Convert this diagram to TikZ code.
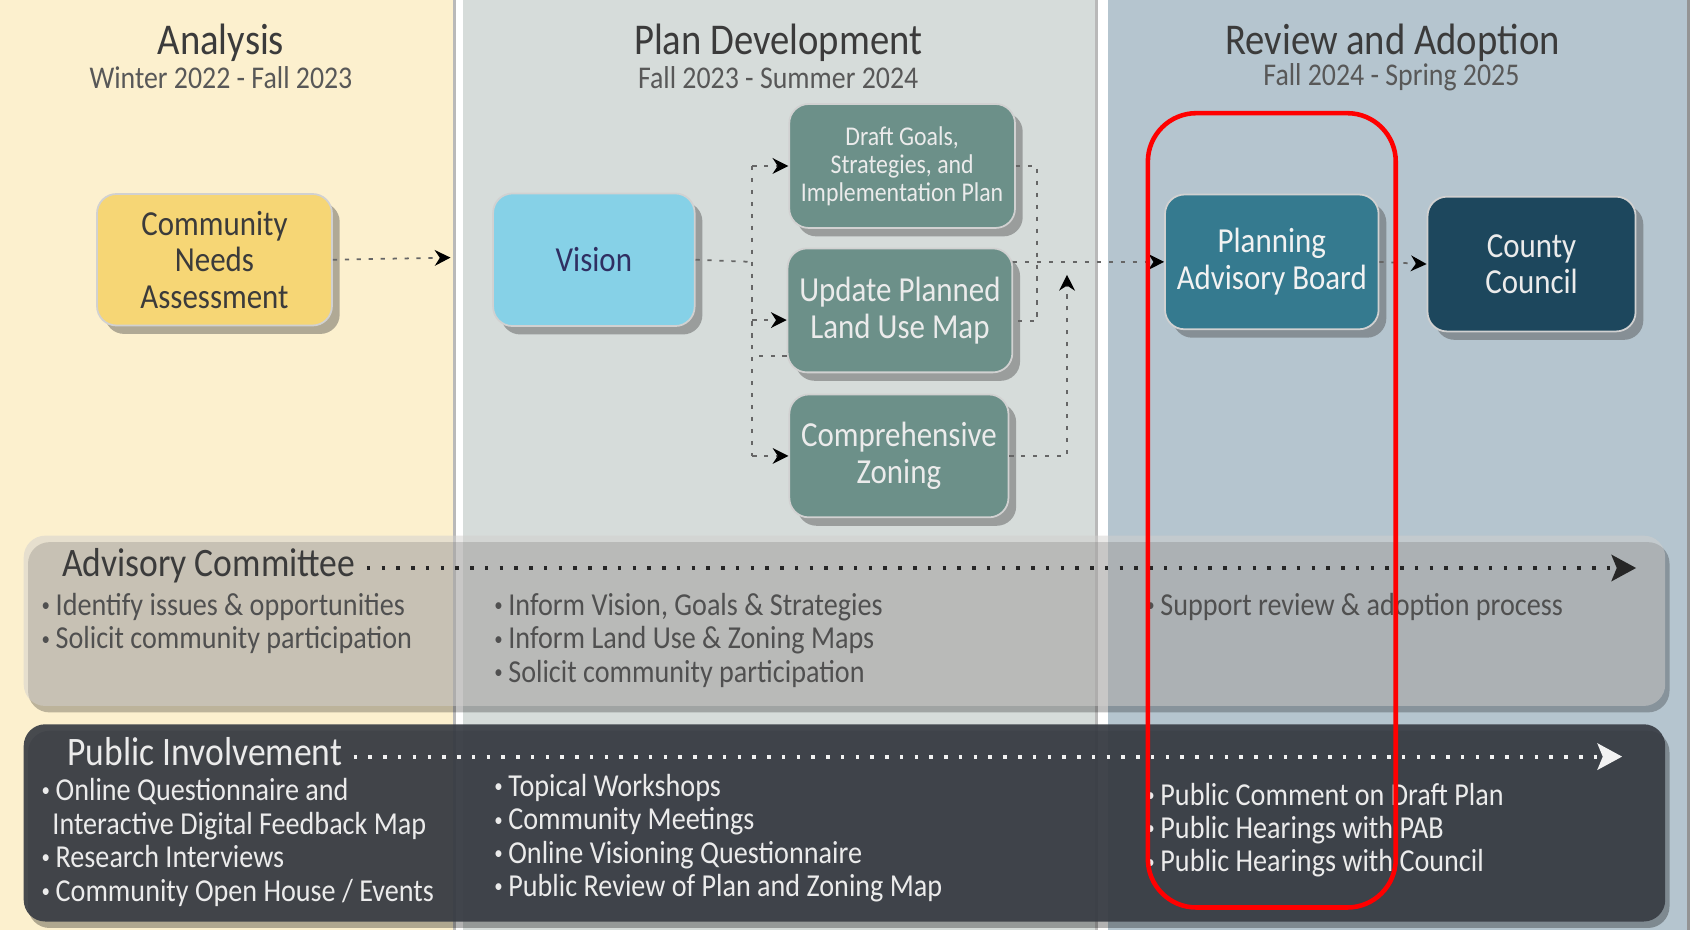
\documentclass[tikz,border=0pt]{standalone}
\usepackage{fontspec}
\setmainfont{Carlito}[FakeStretch=0.88]
\usepackage{xcolor}
\usepackage{tikz}
\usetikzlibrary{arrows.meta, shadows, calc}

\definecolor{creamcol}{HTML}{FCF0CE}
\definecolor{plancol}{HTML}{D6DCDA}
\definecolor{reviewcol}{HTML}{B5C5CF}
\definecolor{sepgray}{HTML}{B9B9B9}
\definecolor{cnafill}{HTML}{F6D675}
\definecolor{visionfill}{HTML}{86D1E7}
\definecolor{sagefill}{HTML}{6C9089}
\definecolor{pabfill}{HTML}{357A8F}
\definecolor{ccfill}{HTML}{1D475D}
\definecolor{inkgray}{HTML}{3B3B3B}
\definecolor{bandgray}{HTML}{D2D0CE}
\definecolor{banddark}{HTML}{383C44}
\definecolor{itemgray}{HTML}{505050}

\newlength\pxu
\setlength\pxu{0.10778mm}
\newcommand\bul{\makebox[13\pxu][l]{\raisebox{0.25ex}{\scalebox{0.6}{\textbullet}}}}

\tikzset{
	phase/.style={font=\fontsize{12.5}{13}\selectfont, text=inkgray, inner sep=0pt},
	period/.style={font=\fontsize{9}{10}\selectfont, text=inkgray!85, inner sep=0pt},
	stagebox/.style={rounded corners=18\pxu, draw=black!18, line width=0.5pt, align=center,
		font=\fontsize{10}{10.4}\selectfont,
		drop shadow={shadow xshift=2.2pt, shadow yshift=-2.4pt, opacity=0.4, fill=black!75}},
	flowline/.style={draw=black!60, line width=0.5pt, dash pattern=on 1.2pt off 2.2pt},
	flow/.style={flowline, -{Stealth[length=4.5pt, width=4.5pt, black]}},
	bandhead/.style={font=\fontsize{11.5}{12}\selectfont, inner sep=0pt, anchor=base west},
	item/.style={font=\fontsize{9.1}{9.3}\selectfont, inner sep=0pt, anchor=base west},
	bandline/.style={line width=1.1pt, dash pattern=on 1pt off 3.2pt}
}

\begin{document}
\begin{tikzpicture}[x=0.10778mm, y=-0.10778mm]
	\useasboundingbox (0,0) rectangle (1568,863);

	\begin{scope}
		\fill[creamcol] (0,0) rectangle (420,863);
		\fill[sepgray] (420,0) rectangle (423,863);
		\fill[white] (423,0) rectangle (430,863);
		\fill[plancol] (430,0) rectangle (1016,863);
		\fill[sepgray] (1016,0) rectangle (1019,863);
		\fill[white] (1019,0) rectangle (1028,863);
		\fill[reviewcol] (1028,0) rectangle (1565,863);
		\fill[sepgray!80!black] (1565,0) rectangle (1568,863);
	\end{scope}

	\node[phase] (anaT) at (205,40) {Analysis};
	\node[period] (anaP) at (205,72) {Winter 2022 - Fall 2023};
	\node[phase] (devT) at (722,40) {Plan Development};
	\node[period] (devP) at (722,72) {Fall 2023 - Summer 2024};
	\node[phase] (revT) at (1292,40) {Review and Adoption};
	\node[period] (revP) at (1291,72) {Fall 2024 - Spring 2025};

	\node[stagebox, fill=cnafill, text=inkgray, minimum width=218\pxu, minimum height=122\pxu] (cna) at (199,241) {Community\\Needs\\Assessment};
	\node[stagebox, fill=visionfill, text=inkgray!80!blue, minimum width=187\pxu, minimum height=123\pxu] (vis) at (551,241) {Vision};
	\node[stagebox, fill=sagefill, text=white!92!black, minimum width=198\pxu, minimum height=115\pxu, font=\fontsize{7.7}{8}\selectfont] (draft) at (837,154) {Draft Goals,\\Strategies, and\\Implementation Plan};
	\node[stagebox, fill=sagefill, text=white!92!black, minimum width=196\pxu, minimum height=115\pxu] (upd) at (835,288) {Update Planned\\Land Use Map};
	\node[stagebox, fill=sagefill, text=white!92!black, minimum width=197\pxu, minimum height=114\pxu] (comp) at (834,423) {Comprehensive\\Zoning};
	\node[stagebox, fill=pabfill, text=white!95!black, minimum width=194\pxu, minimum height=125\pxu] (pab) at (1180,243) {Planning\\Advisory Board};
	\node[stagebox, fill=ccfill, text=white!92!black, minimum width=193\pxu, minimum height=125\pxu] (cc) at (1421,245) {County\\Council};

	\coordinate (cnaEnd) at (418,239);
	\coordinate (jv) at (698,243);
	\coordinate (jr) at (962,243);
	\coordinate (jup) at (990,255);

	\begin{scope}
		\draw[flow] (cna.east) -- (cnaEnd);
		\draw[flowline] (vis.east) -- (jv);
		\draw[flowline] (jv |- draft.west) -- (jv |- comp.west);
		\draw[flow] (jv |- draft.west) -- (draft.west);
		\draw[flow] ($(jv |- upd.west)+(0,9)$) -- ($(upd.west)+(0,9)$);
		\draw[flow] (jv |- comp.west) -- (comp.west);
		\draw[flowline] ($(upd.west)+(0,42)$) -- ($(jv |- upd.west)+(0,42)$);
		\draw[flowline] (draft.east) -| ($(jr |- upd.east)+(0,10)$) -- ($(upd.east)+(0,10)$);
		\draw[flow] (upd.east |- jr) -- (pab.west);
		\draw[flow] (comp.east) -| (jup);
		\draw[flow] (pab.east) -- (cc.west);
	\end{scope}

	\fill[black, opacity=0.25, rounded corners=20\pxu] (26,503) rectangle (1549,661);
	\fill[bandgray, fill opacity=0.5, rounded corners=20\pxu] (22,497) rectangle (1545,655);
	\fill[black, opacity=0.3, rounded corners=20\pxu] (26,678) rectangle (1549,861);
	\fill[banddark, fill opacity=0.92, rounded corners=20\pxu] (22,672) rectangle (1545,855);

	\node[bandhead, text=inkgray] (acT) at (57,535) {Advisory Committee};
	\coordinate (acEnd) at (1518,527);
	\draw[bandline, black!85, -{Stealth[length=7pt, width=7.5pt, inset=1.5pt]}] ($(acT.east |- acEnd)+(10,0)$) -- (acEnd);

	\foreach \txt [count=\i] in {{Identify issues \& opportunities}, {Solicit community participation}}
		\node[item, text=itemgray] (acA\i) at (38, 540+31*\i) {\bul\txt};
	\foreach \txt [count=\i] in {{Inform Vision, Goals \& Strategies}, {Inform Land Use \& Zoning Maps}, {Solicit community participation}}
		\node[item, text=itemgray] (acD\i) at (458, 540+31*\i) {\bul\txt};
	\node[item, text=itemgray] (acR1) at (1063,571) {\bul Support review \& adoption process};

	\node[bandhead, text=white!92!black] (piT) at (62,710) {Public Involvement};
	\coordinate (piEnd) at (1505,702);
	\draw[bandline, white!95!black, -{Stealth[length=7pt, width=7.5pt, inset=1.5pt]}] ($(piT.east |- piEnd)+(10,0)$) -- (piEnd);

	\foreach \txt [count=\i] in {{\bul Online Questionnaire and}, {\hspace*{10\pxu}Interactive Digital Feedback Map}, {\bul Research Interviews}, {\bul Community Open House / Events}}
		\node[item, text=white!92!black] (piA\i) at (38, 712+31*\i) {\txt};
	\foreach \txt [count=\i] in {{Topical Workshops}, {Community Meetings}, {Online Visioning Questionnaire}, {Public Review of Plan and Zoning Map}}
		\node[item, text=white!92!black] (piD\i) at (458, 708+31*\i) {\bul\txt};
	\foreach \txt [count=\i] in {{Public Comment on Draft Plan}, {Public Hearings with PAB}, {Public Hearings with Council}}
		\node[item, text=white!92!black] (piR\i) at (1063, 716+31*\i) {\bul\txt};

	\draw[red, line width=1.3pt, rounded corners=45\pxu] (1065,105) rectangle (1295,842);
\end{tikzpicture}
\end{document}
